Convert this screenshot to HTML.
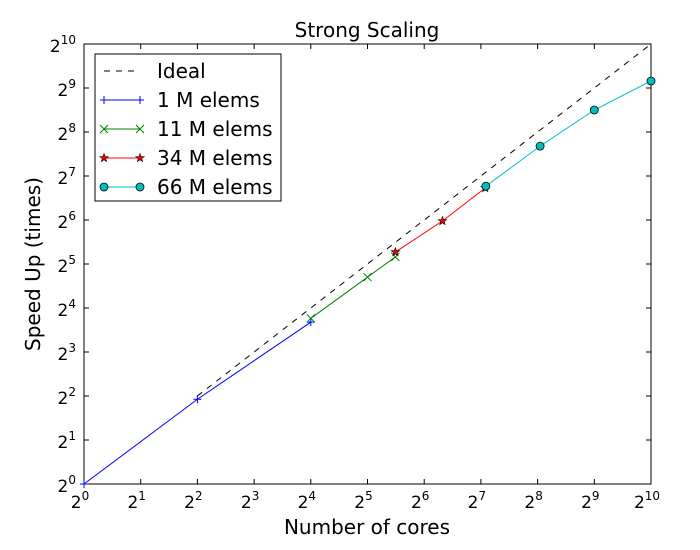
<!DOCTYPE html>
<html><head><meta charset="utf-8"><style>
html,body{margin:0;padding:0;background:#fff;}
svg{display:block;font-family:"DejaVu Sans","Liberation Sans",sans-serif;}
</style></head><body>
<svg id="chart" width="700" height="550"></svg>
<script>
const xTicks=[0,1,2,3,4,5,6,7,8,9,10];
const yTicks=[0,1,2,3,4,5,6,7,8,9,10];
const idealCores=[4,1024];
const idealSpeed=[4,1024];
const s1Cores=[1,4,16];
const s1Speed=[1,3.8,12.8];
const s11Cores=[16,32,45];
const s11Speed=[13.6,26,35.8];
const s34Cores=[45,80,135];
const s34Speed=[38.6,63,106];
const s66Cores=[136,264,512,1024];
const s66Speed=[109,205,362,572];
const seriesNames=["1 M elems","11 M elems","34 M elems","66 M elems"];

const NS="http://www.w3.org/2000/svg";
const svg=document.getElementById('chart');
const L=84,R=651,T=44,B=484;
function X(v){return L+(Math.log2(v)/10)*(R-L);}
function Y(v){return B-(Math.log2(v)/10)*(B-T);}
function el(tag,attrs,parent){const e=document.createElementNS(NS,tag);for(const k in attrs)e.setAttribute(k,attrs[k]);(parent||svg).appendChild(e);return e;}

const title=el('text',{x:367,y:37,'text-anchor':'middle','font-size':20});
title.textContent='Strong Scaling';



const frame=el('rect',{x:L,y:T,width:R-L,height:B-T,fill:'none',stroke:'#000','stroke-width':1});



xTicks.forEach(t=>{
  const x=L+t/10*(R-L);
  el('line',{x1:x,y1:B,x2:x,y2:B-5,stroke:'#000'});
  el('line',{x1:x,y1:T,x2:x,y2:T+5,stroke:'#000'});
  const tx=el('text',{x:x-4,y:B+24,'text-anchor':'middle','font-size':17});
  tx.textContent='2';
  const sup=el('tspan',{dy:-8,'font-size':12},tx);sup.textContent=String(t);
  
  
});
yTicks.forEach(t=>{
  const y=B-t/10*(B-T);
  el('line',{x1:L,y1:y,x2:L+5,y2:y,stroke:'#000'});
  el('line',{x1:R,y1:y,x2:R-5,y2:y,stroke:'#000'});
  const tx=el('text',{x:L-8,y:y+8,'text-anchor':'end','font-size':17});
  tx.textContent='2';
  const sup=el('tspan',{dy:-8,'font-size':12},tx);sup.textContent=String(t);
  
  
});

const xt=el('text',{x:367,y:534,'text-anchor':'middle','font-size':20});
xt.textContent='Number of cores';


const yt=el('text',{x:40,y:264,'text-anchor':'middle','font-size':20,transform:'rotate(-90 40 264)'});
yt.textContent='Speed Up (times)';



function marker(type,x,y,color,g){
  if(type==='plus'){el('path',{d:`M${x-4},${y}H${x+4}M${x},${y-4}V${y+4}`,stroke:color,'stroke-width':1},g);}
  else if(type==='x'){el('path',{d:`M${x-4},${y-4}L${x+4},${y+4}M${x-4},${y+4}L${x+4},${y-4}`,stroke:color,'stroke-width':1},g);}
  else if(type==='star'){let p='';for(let i=0;i<10;i++){const r=i%2?1.8:4.5;const a=-Math.PI/2+i*Math.PI/5;p+=(i?'L':'M')+(x+r*Math.cos(a)).toFixed(2)+','+(y+r*Math.sin(a)).toFixed(2);}el('path',{d:p+'Z',fill:color,stroke:'#000','stroke-width':0.6},g);}
  else if(type==='circle'){el('circle',{cx:x,cy:y,r:4,fill:color,stroke:'#000','stroke-width':0.8},g);}
}
function series(cores,speed,color,type,name,dash){
  const g=el('g',{});
  
  
  el('polyline',{points:cores.map((c,i)=>X(c)+','+Y(speed[i])).join(' '),fill:'none',stroke:color,'stroke-width':1,'stroke-dasharray':dash||'none'},g);
  if(type)cores.forEach((c,i)=>marker(type,X(c),Y(speed[i]),color,g));
}
series(idealCores,idealSpeed,'#000',null,'ideal-line','6,6');
series(s1Cores,s1Speed,'#0000ff','plus','series-1m');
series(s11Cores,s11Speed,'#008000','x','series-11m');
series(s34Cores,s34Speed,'#ff0000','star','series-34m');
series(s66Cores,s66Speed,'#00bfbf','circle','series-66m');

const lg=el('g',{});


el('rect',{x:95,y:54,width:186,height:147,fill:'#fff',stroke:'#000'},lg);
const entries=[['Ideal','#000',null],[seriesNames[0],'#0000ff','plus'],[seriesNames[1],'#008000','x'],[seriesNames[2],'#ff0000','star'],[seriesNames[3],'#00bfbf','circle']];
entries.forEach((e,i)=>{
  const y=71+i*29;
  const g=el('g',{},lg);
  
  
  el('line',{x1:104,y1:y,x2:140,y2:y,stroke:e[1],'stroke-dasharray':i===0?'6,6':'none'},g);
  if(e[2]){marker(e[2],104,y,e[1],g);marker(e[2],140,y,e[1],g);}
  const t=el('text',{x:157,y:y+7,'font-size':20},g);t.textContent=e[0];
});
</script>
</body></html>
